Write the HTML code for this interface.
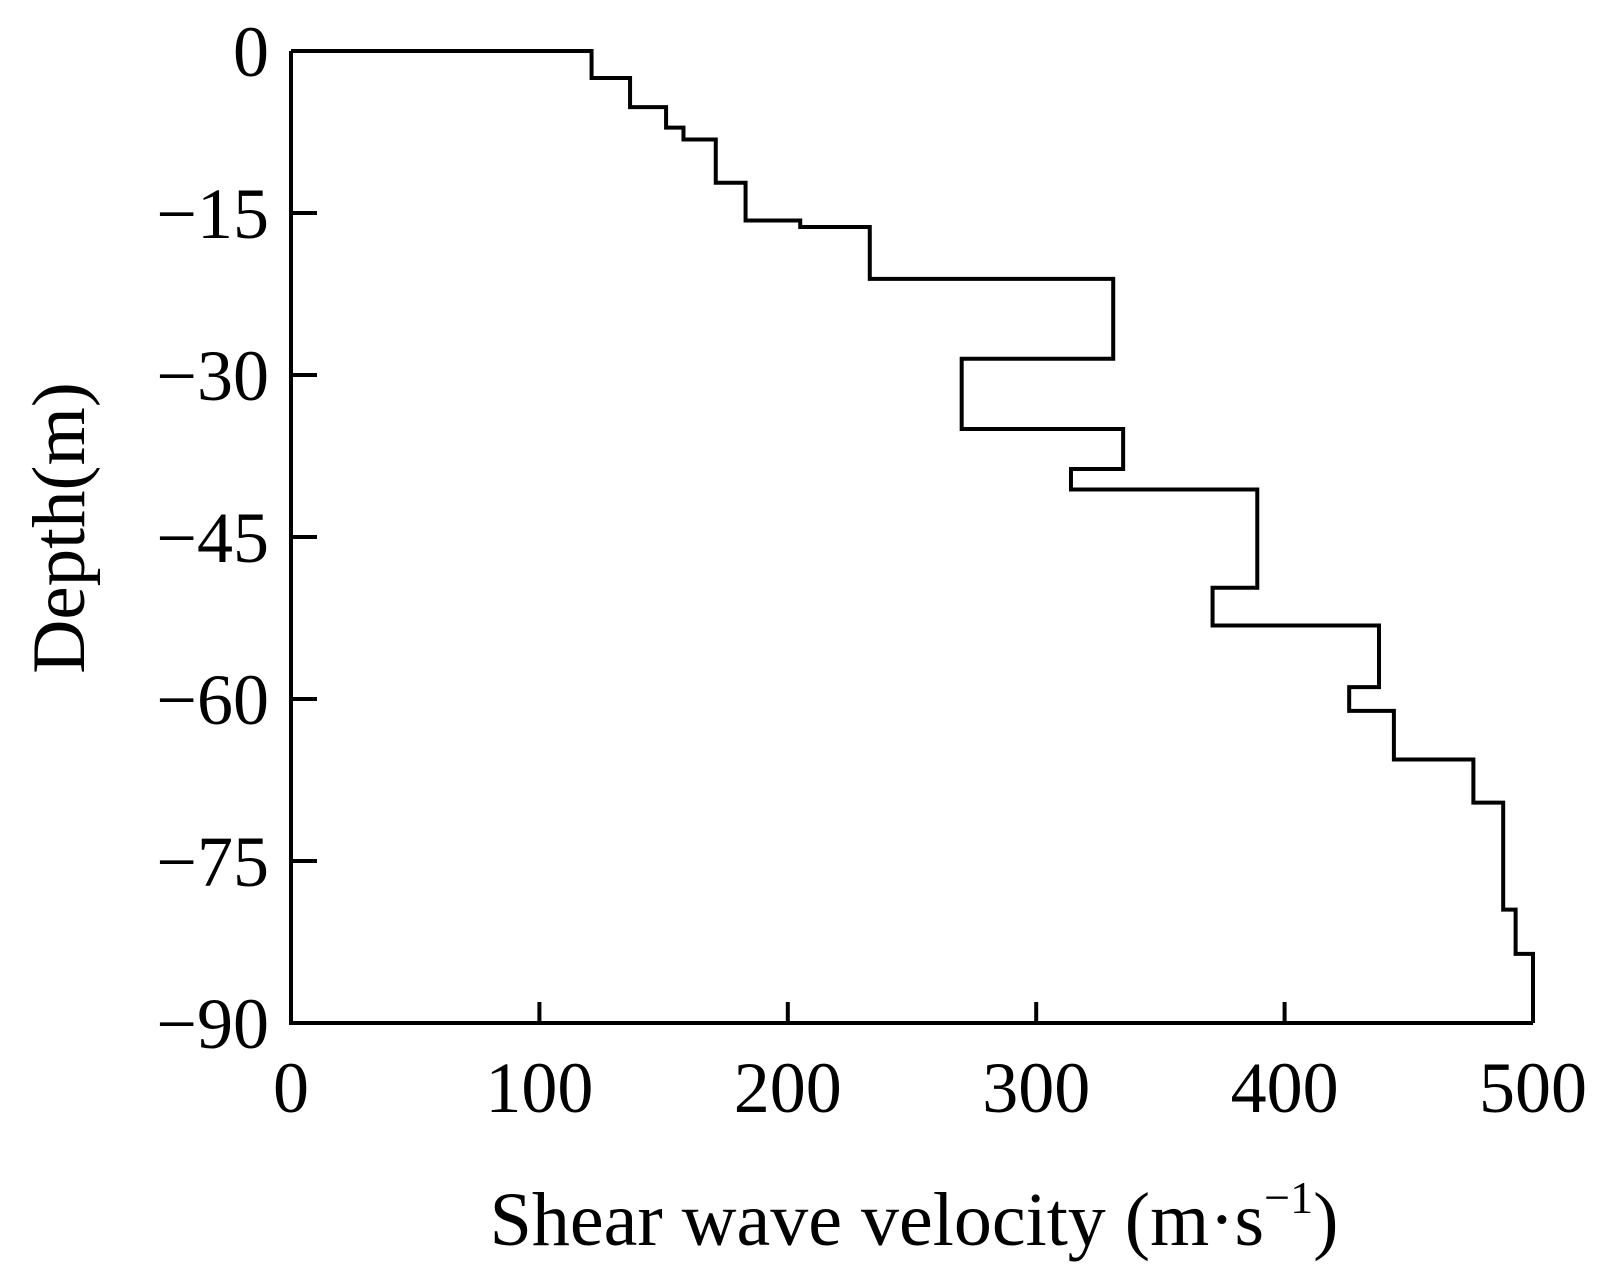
<!DOCTYPE html>
<html><head><meta charset="utf-8"><style>
html,body{margin:0;padding:0;background:#fff;}
svg{display:block;font-family:"Liberation Serif",serif;}
</style></head><body>
<svg id="chart" width="1606" height="1284" viewBox="0 0 1606 1284"></svg>
<script>
const velocities=[121,136.5,151,158,171,183,205,233,331,270,335,314,389,371,438,426,444,476,488,493,500];
const depthBoundaries=[0,-2.5,-5.2,-7.1,-8.2,-12.2,-15.7,-16.3,-21.1,-28.5,-35,-38.7,-40.6,-49.7,-53.2,-58.9,-61.1,-65.6,-69.6,-79.5,-83.6,-90];
const xTicks=[0,100,200,300,400,500];
const yTicks=[0,-15,-30,-45,-60,-75,-90];
const yTickLabels=["0","\u221215","\u221230","\u221245","\u221260","\u221275","\u221290"];

const NS="http://www.w3.org/2000/svg";
const svg=document.getElementById('chart');
const X0=291,X1=1533,Y0=51,Y1=1023;
const xs=v=>X0+(v-0)/(500-0)*(X1-X0);
const ys=d=>Y0+(0-d)/(0-(-90))*(Y1-Y0);
function mk(tag,attrs){const e=document.createElementNS(NS,tag);for(const k in attrs)e.setAttribute(k,attrs[k]);svg.appendChild(e);return e;}

let ax=mk('path',{d:`M${X0},${Y0} V${Y1} H${X1}`,fill:'none',stroke:'#000','stroke-width':4});



xTicks.forEach((t,i)=>{
  const x=xs(t);
  if(i>0&&i<xTicks.length-1){
    const l=mk('line',{x1:x,y1:Y1,x2:x,y2:Y1-21,stroke:'#000','stroke-width':4});
    
    
  }
  const tx=mk('text',{x:x,y:1112,'font-size':72,'text-anchor':'middle',fill:'#000'});
  tx.textContent=String(t);
  
  
});
yTicks.forEach((t,i)=>{
  const y=ys(t);
  const l=mk('line',{x1:X0,y1:y,x2:X0+26,y2:y,stroke:'#000','stroke-width':4});
  
  
  const tx=mk('text',{x:269,y:y+25,'font-size':72,'text-anchor':'end',fill:'#000'});
  tx.textContent=yTickLabels[i];
  
  
});

let d=`M${xs(0)},${ys(depthBoundaries[0])}`;
velocities.forEach((v,i)=>{
  d+=` H${xs(v)} V${ys(depthBoundaries[i+1])}`;
});
const p=mk('path',{d:d,fill:'none',stroke:'#000','stroke-width':4,'stroke-linejoin':'miter'});



const xt=mk('text',{x:914,y:1245,'font-size':76,'text-anchor':'middle',fill:'#000'});
xt.innerHTML='Shear wave velocity (m·s<tspan dy="-32" font-size="46">\u22121</tspan><tspan dy="32">)</tspan>';


const yt=mk('text',{x:0,y:0,'font-size':75,'text-anchor':'middle',fill:'#000',transform:'translate(84,528) rotate(-90)'});
yt.textContent='Depth(m)';


</script>
</body></html>
